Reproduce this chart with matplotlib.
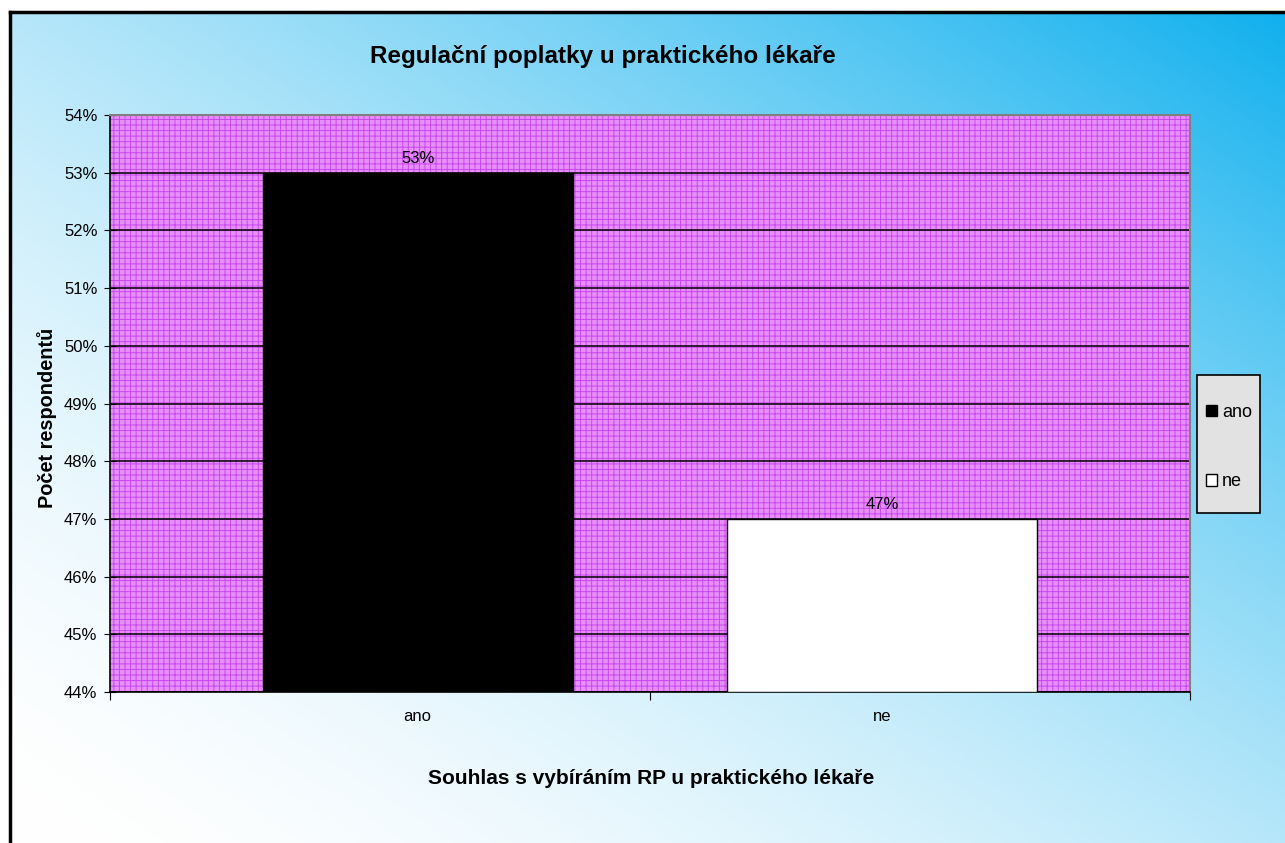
import numpy as np
import matplotlib
matplotlib.use("Agg")
import matplotlib.pyplot as plt
from matplotlib.patches import Rectangle
from matplotlib.ticker import FuncFormatter

# ---------------------------------------------------
categories = ["ano", "ne"]
values = [53, 47]
bar_colors = ["black", "white"]
title = "Regulační poplatky u praktického lékaře"
xlabel = "Souhlas s vybíráním RP u praktického lékaře"
ylabel = "Počet respondentů"
# ---------------------------------------------------

plt.rcParams['font.family'] = ['Liberation Sans', 'DejaVu Sans']
plt.rcParams['hatch.linewidth'] = 0.7

W, H = 1285, 843
fig = plt.figure(figsize=(W / 100, H / 100), dpi=100)

# gradient background inside the black frame
bg = fig.add_axes([10 / W, 0, 1 - 10 / W, 1 - 12 / H], zorder=-10)
xx, yy = np.meshgrid(np.linspace(0, 1, 300), np.linspace(0, 1, 200))
t = np.clip((xx + yy) / 2, 0, 1) ** 1.7
white = np.array([1.0, 1.0, 1.0])
blue = np.array([16, 176, 238]) / 255
img = white[None, None, :] * (1 - t[..., None]) + blue[None, None, :] * t[..., None]
bg.imshow(img, origin="lower", aspect="auto", extent=[0, 1, 0, 1])
bg.set_xlim(0, 1)
bg.set_ylim(0, 1)
bg.set_xticks([])
bg.set_yticks([])
for side in ["top", "left"]:
    bg.spines[side].set_linewidth(2.5)
    bg.spines[side].set_color("black")
for side in ["bottom", "right"]:
    bg.spines[side].set_visible(False)

ax = fig.add_axes([110 / W, 1 - 692 / H, 1080 / W, 577 / H])
ax.patch.set_facecolor("#e88ef8")
ax.patch.set_edgecolor("#c848f0")
ax.patch.set_hatch("+++")

x = np.arange(len(categories))
bars = ax.bar(x, [v - 44 for v in values], bottom=44, width=0.667,
              color=bar_colors, edgecolor="black", linewidth=1, zorder=3,
              label=categories)

for xi, v in zip(x, values):
    ax.text(xi, v + 0.12, f"{v}%", ha="center", va="bottom", fontsize=12)

ax.set_ylim(44, 54)
ax.set_xlim(-0.662, 1.662)
ax.set_yticks(range(44, 55))
ax.yaxis.set_major_formatter(FuncFormatter(lambda v, p: f"{int(v)}%"))
ax.yaxis.grid(True, color="black", linewidth=1.1, zorder=1)
ax.set_axisbelow(True)
ax.tick_params(axis="y", direction="inout", length=8, labelsize=12, pad=5)

ax.set_xticks([-0.662, 0.5, 1.662])
ax.set_xticklabels([])
ax.set_xticks(x, minor=True)
ax.set_xticklabels(categories, minor=True, fontsize=12)
ax.tick_params(axis="x", which="major", direction="out", length=6)
ax.tick_params(axis="x", which="minor", length=0, pad=12)

for side in ["top", "right"]:
    ax.spines[side].set_color("#808080")
    ax.spines[side].set_linewidth(1.5)
for side in ["left", "bottom"]:
    ax.spines[side].set_color("black")
    ax.spines[side].set_linewidth(1.2)

fig.text(603 / W, 1 - 56 / H, title, ha="center", va="center",
         fontsize=17.5, fontweight="bold")
fig.text(651 / W, 1 - 779 / H, xlabel, ha="center", va="center",
         fontsize=15, fontweight="bold")
fig.text(47 / W, 1 - 418 / H, ylabel, ha="center", va="center",
         fontsize=14.3, fontweight="bold", rotation=90)

# legend box
fig.patches.append(Rectangle((1197 / W, 1 - 513 / H), 63 / W, 138 / H,
                             transform=fig.transFigure, facecolor="#e2e2e2",
                             edgecolor="black", linewidth=1.2, zorder=5))
leg = fig.legend(handles=list(bars), labels=categories,
                 loc="center", bbox_to_anchor=(1229 / W, 1 - 447 / H),
                 fontsize=13, frameon=False, handlelength=0.6,
                 handleheight=0.6, handletextpad=0.3, labelspacing=2.9,
                 borderpad=0, borderaxespad=0)
leg.set_zorder(6)

fig.savefig("out.png", dpi=100)
